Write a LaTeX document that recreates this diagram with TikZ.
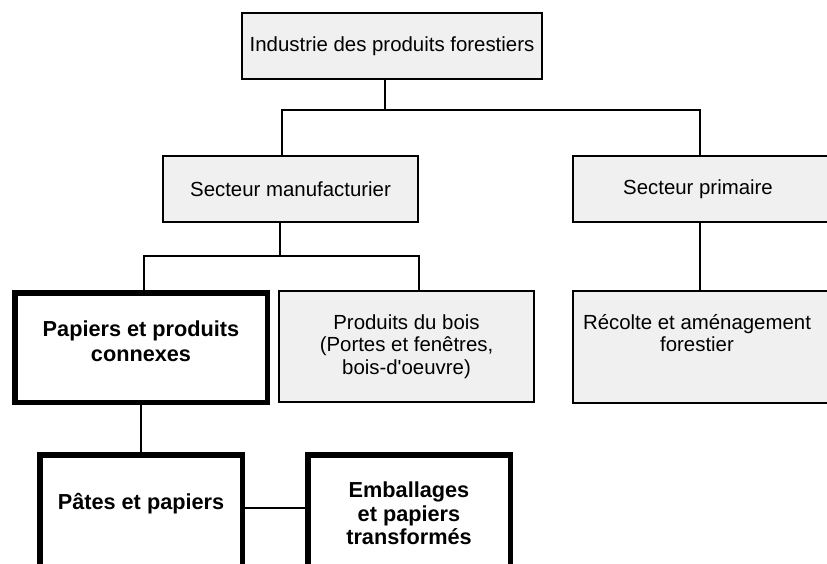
\documentclass[tikz,border=0pt]{standalone}
\usepackage{fontspec}
\setmainfont{Liberation Sans}
\usepackage{tikz}
\usetikzlibrary{positioning}
\definecolor{boxgray}{RGB}{240,240,240}

\begin{document}
\begin{tikzpicture}[x=1pt,y=-1pt,
  box/.style={draw,line width=2.4pt,fill=boxgray,align=center,inner sep=0pt,
    font=\fontsize{20.4}{22.5}\selectfont},
  boldbox/.style={draw,line width=5.5pt,fill=white,align=center,inner sep=0pt,
    font=\fontsize{21.7}{23.5}\selectfont\bfseries},
  link/.style={line width=2.4pt}]
\useasboundingbox (0,0) rectangle (827,564);
\clip (0,0) rectangle (827,564);
% boxes
\node[box,minimum width=299.6pt,minimum height=65.6pt] (industrie) at (392,46) {Industrie des produits forestiers};
\node[box,minimum width=254.6pt,minimum height=65.6pt] (manuf) at (290.5,189) {Secteur manufacturier};
\node[box,minimum width=255.6pt,minimum height=65.6pt] (primaire) at (701,189) {\hspace*{-6pt}Secteur primaire};
\node[box,minimum width=255.6pt,minimum height=111.6pt,
  label={[align=center,font=\fontsize{20.4}{22.3}\selectfont,yshift=14pt,xshift=-4pt]center:R\'ecolte et am\'enagement\\forestier}] (recolte) at (701,347) {};
\node[boldbox,minimum width=252.5pt,minimum height=109.5pt,
  label={[align=center,font=\fontsize{21.7}{25}\selectfont\bfseries,yshift=6pt]center:Papiers et produits\\connexes}] (papiers) at (141,347.5) {};
\node[box,minimum width=254.6pt,minimum height=110.6pt] (produits) at (406.5,346.5) {Produits du bois\\(Portes et fen\^etres,\\bois-d\textquotesingle oeuvre)};
\node[boldbox,minimum width=202.5pt,minimum height=117.5pt,
  label={[font=\fontsize{21.7}{23.5}\selectfont\bfseries,yshift=9.5pt]center:P\^ates et papiers}] (pates) at (141,513.5) {};
\node[boldbox,minimum width=202.5pt,minimum height=117.5pt] (emballages) at (409,513.5) {Emballages\\et papiers\\transform\'es};
% connectors
\coordinate (bus1) at (385,110);
\coordinate (bus1w) at (282,110);
\coordinate (bus1e) at (700,110);
\coordinate (bus2) at (280,256);
\coordinate (bus2w) at (144,256);
\coordinate (bus2e) at (419,256);
\coordinate (mid) at (275,508);
\draw[link] (industrie.south -| bus1) -- (bus1);
\draw[link] (bus1w |- manuf.north) -- (bus1w) -- (bus1e) -- (bus1e |- primaire.north);
\draw[link] (manuf.south -| bus2) -- (bus2);
\draw[link] (bus2w |- papiers.north) -- (bus2w) -- (bus2e) -- (bus2e |- produits.north);
\draw[link] (primaire.south -| bus1e) -- (recolte.north -| bus1e);
\draw[link] (papiers.south) -- (pates.north);
\draw[link] (pates.east |- mid) -- (emballages.west |- mid);
\end{tikzpicture}
\end{document}
